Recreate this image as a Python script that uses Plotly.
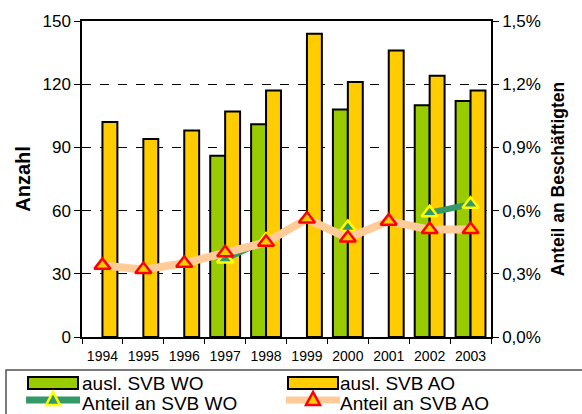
import plotly.graph_objects as go

# Jahre
years = ["1994", "1995", "1996", "1997", "1998", "1999", "2000", "2001", "2002", "2003"]

# ausländische sozialversicherungspflichtig Beschäftigte (Anzahl)
svb_wo = [None, None, None, 86, 101, None, 108, None, 110, 112]
svb_ao = [102, 94, 98, 107, 117, 144, 121, 136, 124, 117]

# Anteil an allen Beschäftigten
anteil_wo = [None, None, None, 0.0037, 0.0046, None, 0.0052, None, 0.0059, 0.0063]
anteil_ao = [0.0034, 0.0032, 0.0035, 0.0040, 0.0045, 0.0056, 0.0047, 0.0055, 0.0051, 0.0051]

names = ["ausl. SVB WO", "ausl. SVB AO", "Anteil an SVB WO", "Anteil an SVB AO"]

FONT = "Arial, Liberation Sans, sans-serif"
C_WO_BAR, C_AO_BAR = "#99CC00", "#FFCC00"
C_WO_LINE, C_AO_LINE = "#339966", "#FFCC99"
W, H = 582, 414
ML, MR, MT, MB = 82, 91, 21, 77
PW, PH = W - ML - MR, H - MT - MB

fig = go.Figure()

fig.add_trace(go.Bar(
    x=years, y=svb_wo, name=names[0],
    marker=dict(color=C_WO_BAR, line=dict(color="black", width=2)),
))
fig.add_trace(go.Bar(
    x=years, y=svb_ao, name=names[1],
    marker=dict(color=C_AO_BAR, line=dict(color="black", width=2)),
))
fig.add_trace(go.Scatter(
    x=years, y=anteil_wo, name=names[2], yaxis="y2",
    mode="lines+markers", connectgaps=False,
    line=dict(color=C_WO_LINE, width=6),
    marker=dict(symbol="triangle-up", size=14, color=C_WO_LINE,
                line=dict(color="#FFFF00", width=2.5)),
))
fig.add_trace(go.Scatter(
    x=years, y=anteil_ao, name=names[3], yaxis="y2",
    mode="lines+markers",
    line=dict(color=C_AO_LINE, width=8),
    marker=dict(symbol="triangle-up", size=14, color=C_AO_BAR,
                line=dict(color="#FF0000", width=2.5)),
))


# Legende unterhalb der Grafik (Pixelangaben -> Papierkoordinaten)
def px(x):
    return (x - ML) / PW


def py(y):
    return (MT + PH - y) / PH


shapes = []
annotations = []

# Rahmen
shapes.append(dict(type="rect", xref="paper", yref="paper",
                   x0=px(6), x1=px(600), y0=py(370), y1=py(430),
                   line=dict(color="#505050", width=1.5), fillcolor="white", layer="above"))


def bar_key(x0, y, color):
    shapes.append(dict(type="rect", xref="paper", yref="paper",
                       x0=px(x0), x1=px(x0 + 50), y0=py(y - 6), y1=py(y + 6),
                       line=dict(color="black", width=2), fillcolor=color, layer="above"))


def line_key(x0, y, color, fill, edge, lw):
    shapes.append(dict(type="line", xref="paper", yref="paper",
                       x0=px(x0), x1=px(x0 + 54), y0=py(y), y1=py(y),
                       line=dict(color=color, width=lw), layer="above"))
    cx = x0 + 27
    path = "M {:.5f},{:.5f} L {:.5f},{:.5f} L {:.5f},{:.5f} Z".format(
        px(cx), py(y - 8), px(cx - 7), py(y + 5), px(cx + 7), py(y + 5))
    shapes.append(dict(type="path", xref="paper", yref="paper", path=path,
                       fillcolor=fill, line=dict(color=edge, width=2.5), layer="above"))


def key_text(x, y, text):
    annotations.append(dict(xref="paper", yref="paper", x=px(x), y=py(y),
                            xanchor="left", yanchor="middle", text=text, showarrow=False,
                            font=dict(size=19, family=FONT, color="black")))


bar_key(28, 383, C_WO_BAR)
key_text(80, 384, names[0])
bar_key(288, 383, C_AO_BAR)
key_text(338, 384, names[1])
line_key(26, 400, C_WO_LINE, C_WO_LINE, "#FFFF00", 7)
key_text(80, 403, names[2])
line_key(286, 400, C_AO_LINE, C_AO_BAR, "#FF0000", 7)
key_text(338, 403, names[3])

fig.update_layout(
    width=W, height=H,
    margin=dict(l=ML, r=MR, t=MT, b=MB, autoexpand=False),
    paper_bgcolor="white", plot_bgcolor="white",
    separators=",.",
    font=dict(family=FONT, color="black"),
    showlegend=False,
    barmode="group", bargap=0.27, bargroupgap=0,
    xaxis=dict(
        type="category", range=[-0.5, len(years) - 0.5],
        showline=True, linecolor="black", linewidth=1.5,
        mirror=True, ticks="outside", tickson="boundaries", ticklen=5,
        tickcolor="black", showgrid=False, tickfont=dict(size=14), tickangle=0,
        ticklabelstandoff=5, automargin=False,
    ),
    yaxis=dict(
        range=[0, 150], dtick=30, showline=True, linecolor="black", linewidth=1.5,
        ticks="outside", ticklen=6, tickcolor="black", tickfont=dict(size=17),
        showgrid=True, gridcolor="black", gridwidth=1, griddash="dash",
        zeroline=False, automargin=False,
        title=dict(text="<b>Anzahl</b>", font=dict(size=20), standoff=6),
    ),
    yaxis2=dict(
        overlaying="y", side="right", range=[0, 0.015], dtick=0.003,
        tickformat=".1%", showline=True, linecolor="black", linewidth=1.5,
        ticks="outside", ticklen=6, tickcolor="black", tickfont=dict(size=17),
        showgrid=False, zeroline=False, automargin=False,
        title=dict(text="<b>Anteil an Beschäftigten</b>", font=dict(size=17.5), standoff=12),
    ),
    shapes=shapes,
    annotations=annotations,
)

fig.write_html("out.html")
